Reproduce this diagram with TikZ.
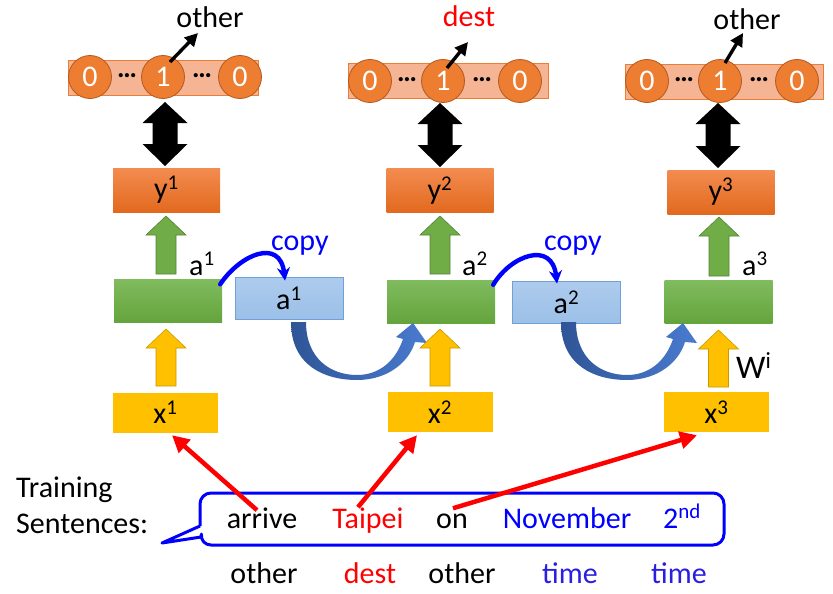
\documentclass[tikz,border=0pt]{standalone}
\usepackage{fontspec}
\setmainfont{Carlito}
\usetikzlibrary{arrows.meta,calc}
\definecolor{barf}{HTML}{F5B594}
\definecolor{barb}{HTML}{ED7D31}
\definecolor{circf}{HTML}{ED7D31}
\definecolor{circb}{HTML}{B4581F}
\definecolor{yt}{HTML}{F38C50}
\definecolor{yb}{HTML}{E2691E}
\definecolor{gt}{HTML}{80BB5E}
\definecolor{gb}{HTML}{64A43C}
\definecolor{garr}{HTML}{70AD47}
\definecolor{garrb}{HTML}{548235}
\definecolor{gold}{HTML}{FFC000}
\definecolor{goldb}{HTML}{C99A00}
\definecolor{bt}{HTML}{ADCBED}
\definecolor{bb}{HTML}{9CC0E8}
\definecolor{bbd}{HTML}{6FA0D8}
\definecolor{cdark}{HTML}{2F5597}
\definecolor{clight}{HTML}{4A7BD0}
\definecolor{pureblue}{HTML}{0000FF}
\definecolor{timeblue}{HTML}{2A1FE0}
\newcommand\upblock[4]{%
  \filldraw[#1] ({#2-20},{#3+19}) -- (#2,#3) -- ({#2+20},{#3+19}) -- ({#2+10},{#3+19}) -- ({#2+10},#4) -- ({#2-10},#4) -- ({#2-10},{#3+19}) -- cycle;}
\newcommand\dblblock[3]{%
  \fill[black] (#1,#2) -- ({#1+22.5},{#2+21}) -- ({#1+12.5},{#2+21}) -- ({#1+12.5},{#3-22}) -- ({#1+22.5},{#3-22}) -- (#1,#3) -- ({#1-22.5},{#3-22}) -- ({#1-12.5},{#3-22}) -- ({#1-12.5},{#2+21}) -- ({#1-22.5},{#2+21}) -- cycle;}
\newcommand\curvedarrow{%
  \shade[left color=cdark, right color=clight] (291,322) .. controls (291,366) and (325,380) .. (357,380) .. controls (388,380) and (409,362) .. (415,342) -- (427,343) -- (413,323) -- (396,337) -- (403,339) .. controls (396,360) and (380,375) .. (357,375) .. controls (330,375) and (306,358) .. (306,322) -- cycle;}
\begin{document}
\begin{tikzpicture}[x=1pt,y=-1pt,
  every node/.style={font=\fontsize{30}{36}\selectfont, inner sep=0pt},
  bar/.style={draw=barb, fill=barf, line width=0.8pt, minimum width=#1, minimum height=35pt},
  circ/.style={circle, draw=circb, fill=circf, line width=0.8pt, minimum size=43pt, text=white},
  dots/.style={font=\fontsize{28}{34}\selectfont\bfseries},
  ybox/.style={top color=yt, bottom color=yb, minimum width=107pt, minimum height=44pt},
  gbox/.style={top color=gt, bottom color=gb, minimum width=108pt, minimum height=43pt},
  xbox/.style={fill=gold, minimum width=105pt, minimum height=40pt},
  bbox/.style={top color=bt, bottom color=bb, draw=bbd, line width=0.8pt, minimum width=108pt, minimum height=42pt},
  garrow/.style={fill=garr, draw=garrb, line width=0.6pt},
  yarrow/.style={fill=gold, draw=goldb, line width=0.6pt},
  blkarr/.style={draw=black, line width=3.4pt, -{Triangle[length=13pt,width=13pt]}},
  copyarr/.style={draw=pureblue, line width=4.4pt, line cap=round, -{Stealth[length=13pt,width=13pt]}},
  redarr/.style={draw=red, line width=4.5pt, -{Triangle[length=17pt,width=17pt]}},
  callout/.style={draw=pureblue, line width=3pt, line join=round}
]
\useasboundingbox (0,0) rectangle (833,594);

% ---------- output vectors ----------
\node[bar=190pt] (bar1) at (163,77.5) {};
\node[bar=200pt] (bar2) at (448,81) {};
\node[bar=198pt] (bar3) at (724,81.5) {};
\node[circ] (c1a) at (90,77) {0};
\node[circ] (c1b) at (163,77) {1};
\node[circ] (c1c) at (240,77) {0};
\node[dots] (d1a) at (127,76) {…};
\node[dots] (d1b) at (202,76) {…};
\node[circ] (c2a) at (370,81) {0};
\node[circ] (c2b) at (443,81) {1};
\node[circ] (c2c) at (520,81) {0};
\node[dots] (d2a) at (407,80) {…};
\node[dots] (d2b) at (482,80) {…};
\node[circ] (c3a) at (647,81) {0};
\node[circ] (c3b) at (720,81) {1};
\node[circ] (c3c) at (797,81) {0};
\node[dots] (d3a) at (684,80) {…};
\node[dots] (d3b) at (759,80) {…};

\node[anchor=base] (lo1) at (210,28) {other};
\node[anchor=base, text=red] (lo2) at (469,27) {dest};
\node[anchor=base] (lo3) at (747,30) {other};
\draw[blkarr] ([shift={(7,-15)}]c1b.center) -- ([shift={(-12,5)}]lo1.base);
\draw[blkarr] ([shift={(4,-13)}]c2b.center) -- ([shift={(-1,15)}]lo2.base);
\draw[blkarr] ([shift={(5,-18)}]c3b.center) -- ([shift={(-4,3)}]lo3.base);

% ---------- double arrows ----------
\dblblock{165}{102}{166}
\dblblock{440}{103}{167}
\dblblock{718}{103}{168}

% ---------- y boxes ----------
\node[ybox] (y1) at (166.5,190) {y\textsuperscript{1}};
\node[ybox] (y2) at (440,190.5) {y\textsuperscript{2}};
\node[ybox] (y3) at (721,192) {y\textsuperscript{3}};

% ---------- green arrows ----------
\upblock{garrow}{166}{216}{274}
\upblock{garrow}{440}{216}{274}
\upblock{garrow}{719}{217}{276}

% ---------- hidden layer boxes ----------
\node[gbox] (g1) at (168,301) {};
\node[gbox] (g2) at (441,301.5) {};
\node[gbox] (g3) at (718.5,302) {};
\node[bbox] (b1) at (289,298) {a\textsuperscript{1}};
\node[bbox] (b2) at (566.5,302) {a\textsuperscript{2}};

\node[anchor=base west] (la1) at (189,275) {a\textsuperscript{1}};
\node[anchor=base west] (la2) at (462,275) {a\textsuperscript{2}};
\node[anchor=base west] (la3) at (742,275) {a\textsuperscript{3}};

% ---------- copy arrows ----------
\node[anchor=base west, text=pureblue] (cp1) at (271,250) {copy};
\node[anchor=base west, text=pureblue] (cp2) at (544,250) {copy};
\draw[copyarr] ([shift={(-2,5)}]g1.north east) .. controls +(20,-30) and +(-5,-43) .. ([shift={(-4,4)}]b1.north);
\draw[copyarr] ([shift={(-2,5)}]g2.north east) .. controls +(18,-30) and +(-5,-43) .. ([shift={(-9.5,3)}]b2.north);

% ---------- curved arrows ----------
\curvedarrow
\begin{scope}[xshift=270pt]
\curvedarrow
\end{scope}

% ---------- yellow arrows and input boxes ----------
\upblock{yarrow}{166}{329}{386}
\upblock{yarrow}{440}{329}{386}
\upblock{yarrow}{718.5}{330}{387}
\node[xbox] (x1) at (165.5,412.5) {x\textsuperscript{1}};
\node[xbox] (x2) at (440,412) {x\textsuperscript{2}};
\node[xbox] (x3) at (716.5,412) {x\textsuperscript{3}};
\node[anchor=base west, font=\fontsize{33}{39}\selectfont] (wi) at (736,378) {W\textsuperscript{i}};

% ---------- training sentence ----------
\node[anchor=base west] (tr1) at (16,497) {Training};
\node[anchor=base west] (tr2) at (16,533) {Sentences:};
\draw[callout] (200,526) -- (162,543) -- (201,537) [rounded corners=11pt] -- (200,545) -- (724,545) -- (724,493) -- (200,493) [sharp corners] -- (200,526);

\node[anchor=base] (w1) at (262,528) {arrive};
\node[anchor=base, text=red] (w2) at (368,528) {Taipei};
\node[anchor=base] (w3) at (452,528) {on};
\node[anchor=base, text=pureblue] (w4) at (567,528) {November};
\node[anchor=base, text=pureblue] (w5) at (682,528) {2\textsuperscript{nd}};

\node[anchor=base] (t1) at (264,583) {other};
\node[anchor=base, text=red] (t2) at (370,583) {dest};
\node[anchor=base] (t3) at (462,583) {other};
\node[anchor=base, text=timeblue] (t4) at (570,583) {time};
\node[anchor=base, text=timeblue] (t5) at (679,583) {time};

% ---------- red arrows ----------
\draw[redarr] ([shift={(-5,3)}]w1.north) -- ([shift={(6.5,2.5)}]x1.south);
\draw[redarr] ([shift={(-10,0)}]w2.north) -- ([shift={(-23,3)}]x2.south);
\draw[redarr] ([shift={(1,-5)}]w3.north) -- ([shift={(-19.5,3)}]x3.south);
\end{tikzpicture}
\end{document}
